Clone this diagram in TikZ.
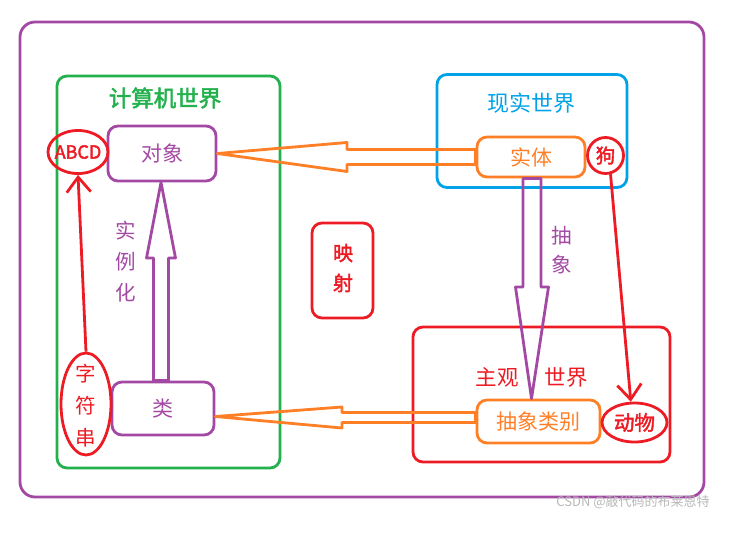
\documentclass[tikz,border=0pt]{standalone}
\usepackage{fontspec}
\setmainfont{Noto Sans CJK SC}[AutoFakeBold=2.2]
\usetikzlibrary{shapes.geometric,arrows.meta,calc}
\definecolor{ppl}{HTML}{A349A4}
\definecolor{grn}{HTML}{22B14C}
\definecolor{blu}{HTML}{00A2E8}
\definecolor{rd}{HTML}{ED1C24}
\definecolor{org}{HTML}{FF7F27}
\definecolor{wm}{HTML}{B8B8B8}
\tikzset{
  box/.style={draw, rounded corners=10pt, line width=2.8pt, inner sep=0pt},
  ell/.style={draw, ellipse, line width=2.8pt, inner sep=0pt, color=rd},
  txt/.style={inner sep=0pt, font=\fontsize{21}{25}\selectfont},
  hollow/.style={draw, line width=2.8pt, line join=round},
  redarr/.style={draw=rd, line width=2.8pt, -{Straight Barb[length=15pt,width=24pt,line width=2.8pt]}}
}
\begin{document}
\begin{tikzpicture}[x=1pt,y=-1pt]
\useasboundingbox (0,0) rectangle (735,532);
% frames
\node[box, draw=ppl, rounded corners=15pt, minimum width=684pt, minimum height=475pt] (outer) at (362,259.5) {};
\node[box, draw=grn, minimum width=223pt, minimum height=392pt] (comp) at (168.5,272) {};
\node[box, draw=blu, minimum width=190pt, minimum height=113pt] (real) at (532,131) {};
\node[box, draw=rd, minimum width=257pt, minimum height=135pt] (subj) at (541.5,394.5) {};
% titles
\node[txt, text=grn, font=\fontsize{22.5}{26}\selectfont\bfseries] (tcomp) at (165,98) {计算机世界};
\node[txt, text=blu, font=\fontsize{22}{26}\selectfont] (treal) at (531,103) {现实世界};
\node[txt, text=rd, font=\fontsize{21.5}{26}\selectfont] (tsubj1) at (497,377) {主观};
\node[txt, text=rd, font=\fontsize{21.5}{26}\selectfont] (tsubj2) at (566,377) {世界};
% mapping box
\node[box, draw=rd, minimum width=61pt, minimum height=95pt] (map) at (342.5,270.5) {};
\node[txt, text=rd, align=center, font=\fontsize{20}{30}\selectfont\bfseries] (tmap) at (343,268) {映\\射};
% inner boxes
\node[box, draw=ppl, minimum width=108pt, minimum height=55pt] (dx) at (162,153.5) {};
\node[txt, text=ppl] (tdx) at (dx) {对象};
\node[box, draw=ppl, minimum width=102pt, minimum height=53pt] (lei) at (163,408.5) {};
\node[txt, text=ppl] (tlei) at (lei) {类};
\node[box, draw=org, minimum width=108pt, minimum height=40pt] (st) at (531,157) {};
\node[txt, text=org] (tst) at (st) {实体};
\node[box, draw=org, minimum width=123pt, minimum height=43pt] (cx) at (538.5,421.5) {};
\node[txt, text=org] (tcx) at (cx) {抽象类别};
% red ellipses
\node[ell, minimum width=60pt, minimum height=43pt] (abcd) at (78,152) {};
\node[txt, text=rd, font=\fontsize{18}{22}\selectfont\bfseries] (tabcd) at (abcd) {ABCD};
\node[ell, minimum width=50pt, minimum height=102pt] (zfc) at (86,404) {};
\node[txt, text=rd, align=center, font=\fontsize{20.5}{32}\selectfont] (tzfc) at (86,406) {字\\符\\串};
\node[ell, minimum width=36pt, minimum height=36pt] (gou) at (605.5,155.5) {};
\node[txt, text=rd, font=\fontsize{19.5}{22}\selectfont\bfseries] (tgou) at (gou) {狗};
\node[ell, minimum width=65pt, minimum height=39pt] (dw) at (634.5,422.5) {};
\node[txt, text=rd, font=\fontsize{20.5}{24}\selectfont\bfseries] (tdw) at (dw) {动物};
% side labels
\node[txt, text=ppl, align=center, font=\fontsize{20.5}{31}\selectfont] (tslh) at (126,262) {实\\例\\化};
\node[txt, text=ppl, align=center, font=\fontsize{20.5}{29}\selectfont] (tcxl) at (562,250) {抽\\象};
% hollow arrows
\draw[hollow, draw=org] let \p1=(st.west), \p2=(dx.east) in
  (\x1,\y1+7.5pt) -- (347pt,\y1+7.5pt) -- (347pt,\y1+14.5pt) -- (\x2,\y2) -- (347pt,\y1-14.5pt) -- (347pt,\y1-7.5pt) -- (\x1,\y1-7.5pt) -- cycle;
\draw[hollow, draw=org] let \p1=([yshift=4pt]cx.west), \p2=([yshift=-8pt]lei.east) in
  (\x1,\y1+5pt) -- (342pt,\y1+5pt) -- (342pt,\y1+10.5pt) -- (\x2,\y2) -- (342pt,\y1-10.5pt) -- (342pt,\y1-5pt) -- (\x1,\y1-5pt) -- cycle;
\draw[hollow, draw=ppl] let \p1=([xshift=-2pt]lei.north), \p2=([xshift=-1pt]dx.south) in
  (\x1+7.5pt,\y1) -- (\x1+7.5pt,-258pt) -- (\x1+14.5pt,-258pt) -- (\x2,\y2) -- (\x1-14.5pt,-258pt) -- (\x1-7.5pt,-258pt) -- (\x1-7.5pt,\y1) -- cycle;
\draw[hollow, draw=ppl] let \p1=([xshift=1pt]st.south), \p2=([xshift=-7pt]cx.north) in
  (\x1+9pt,\y1) -- (\x1+9pt,-287pt) -- (\x1+16.5pt,-287pt) -- (\x2,\y2) -- (\x1-16.5pt,-287pt) -- (\x1-9pt,-287pt) -- (\x1-9pt,\y1) -- cycle;
% red arrows
\draw[redarr] (zfc.north) -- (abcd.south);
\draw[redarr] (gou.-75) -- (dw.100);
% watermark
\node[inner sep=0pt, text=wm, font=\fontsize{13}{15}\selectfont] (wmk) at (633,502) {CSDN @敲代码的布莱恩特};
\end{tikzpicture}
\end{document}
